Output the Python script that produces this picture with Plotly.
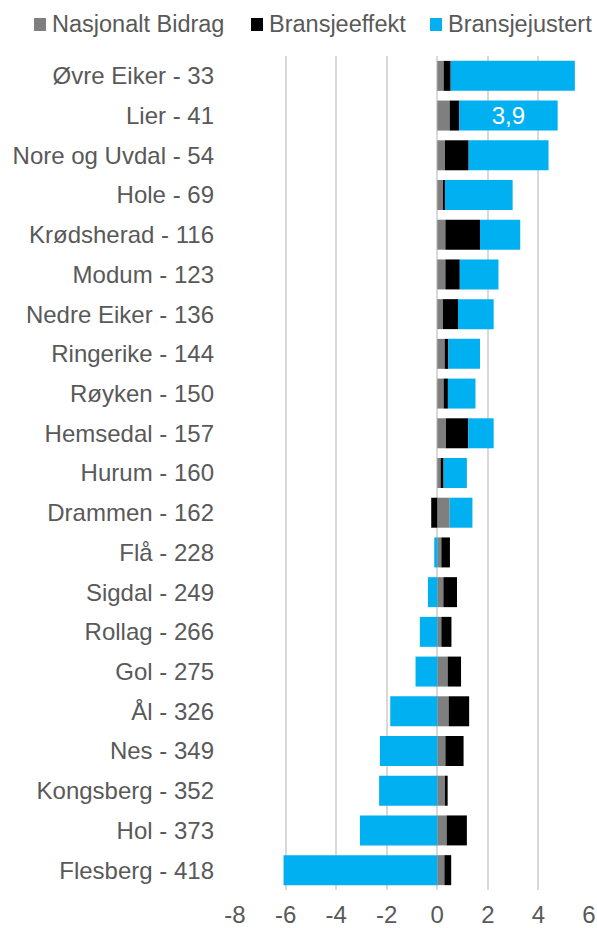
import plotly.graph_objects as go

# Kommuner (rangering) og bidrag per komponent
kommuner = [
    "Øvre Eiker - 33", "Lier - 41", "Nore og Uvdal - 54", "Hole - 69",
    "Krødsherad - 116", "Modum - 123", "Nedre Eiker - 136", "Ringerike - 144",
    "Røyken - 150", "Hemsedal - 157", "Hurum - 160", "Drammen - 162",
    "Flå - 228", "Sigdal - 249", "Rollag - 266", "Gol - 275", "Ål - 326",
    "Nes - 349", "Kongsberg - 352", "Hol - 373", "Flesberg - 418",
]
nasjonalt_bidrag = [0.25, 0.49, 0.30, 0.25, 0.32, 0.32, 0.22, 0.29, 0.25, 0.34, 0.13,
                    0.49, 0.16, 0.24, 0.16, 0.41, 0.45, 0.32, 0.30, 0.37, 0.28]
bransjeeffekt = [0.28, 0.37, 0.94, 0.05, 1.37, 0.57, 0.60, 0.15, 0.17, 0.88, 0.12,
                 -0.24, 0.34, 0.54, 0.40, 0.53, 0.81, 0.72, 0.11, 0.80, 0.27]
bransjejustert = [4.91, 3.90, 3.16, 2.68, 1.59, 1.53, 1.41, 1.25, 1.09, 1.01, 0.92,
                  0.90, -0.12, -0.37, -0.69, -0.86, -1.86, -2.27, -2.30, -3.06, -6.08]
merket = ["Lier - 41"]
x_ticks = [-8, -6, -4, -2, 0, 2, 4, 6]

serier = [
    ("Nasjonalt Bidrag", nasjonalt_bidrag, "#7f7f7f"),
    ("Bransjeeffekt", bransjeeffekt, "#000000"),
    ("Bransjejustert", bransjejustert, "#00b0f0"),
]

tekst_farge = "#595959"
font = "Liberation Sans, Arial, sans-serif"
W, H = 597, 928
M = dict(l=235, r=8, t=56, b=38)
plot_w = W - M["l"] - M["r"]
plot_h = H - M["t"] - M["b"]


def px_x(px):
    return (px - M["l"]) / plot_w


def px_y(py):
    return (H - M["b"] - py) / plot_h


etiketter = [
    (f"{v:.1f}".replace(".", ",") if k in merket else "")
    for k, v in zip(kommuner, bransjejustert)
]

fig = go.Figure()
for navn, verdier, farge in serier:
    fig.add_trace(go.Bar(
        y=kommuner, x=verdier, orientation="h", name=navn,
        marker=dict(color=farge, line=dict(width=0)),
        showlegend=False,
    ))
fig.data[2].update(
    text=etiketter, textposition="inside", insidetextanchor="middle",
    textangle=0, constraintext="none",
    insidetextfont=dict(color="white", size=24, family=font),
)

# Tegnforklaring øverst: fargeruter med navn ved siden av
legend_x = [34, 251, 430]
legend_yc = 24.5
shapes, annotations = [], []
for (navn, _, farge), lx in zip(serier, legend_x):
    shapes.append(dict(
        type="rect", xref="paper", yref="paper",
        x0=px_x(lx), x1=px_x(lx + 12),
        y0=px_y(legend_yc + 6.5), y1=px_y(legend_yc - 6.5),
        fillcolor=farge, line=dict(width=0),
    ))
    annotations.append(dict(
        text=navn, xref="paper", yref="paper",
        x=px_x(lx + 16), y=px_y(legend_yc - 1),
        xanchor="left", yanchor="middle", showarrow=False,
        font=dict(size=23.5, color=tekst_farge, family=font),
    ))

fig.update_layout(
    width=W, height=H,
    barmode="relative", bargap=0.245,
    plot_bgcolor="white", paper_bgcolor="white",
    margin=M,
    font=dict(family=font, size=24, color=tekst_farge),
    shapes=shapes, annotations=annotations,
    xaxis=dict(
        range=[-8, 6], tickvals=x_ticks, ticktext=[str(t) for t in x_ticks],
        showgrid=True, gridcolor="#d9d9d9", gridwidth=1.5,
        zeroline=False, showline=False, ticks="", ticklabelstandoff=8,
        tickfont=dict(size=24, color=tekst_farge), automargin=False,
    ),
    yaxis=dict(
        autorange="reversed", showgrid=False, zeroline=False, showline=False,
        ticks="", ticklabelstandoff=20, automargin=False,
        tickfont=dict(size=24, color=tekst_farge),
    ),
)

fig.write_html("out.html")
